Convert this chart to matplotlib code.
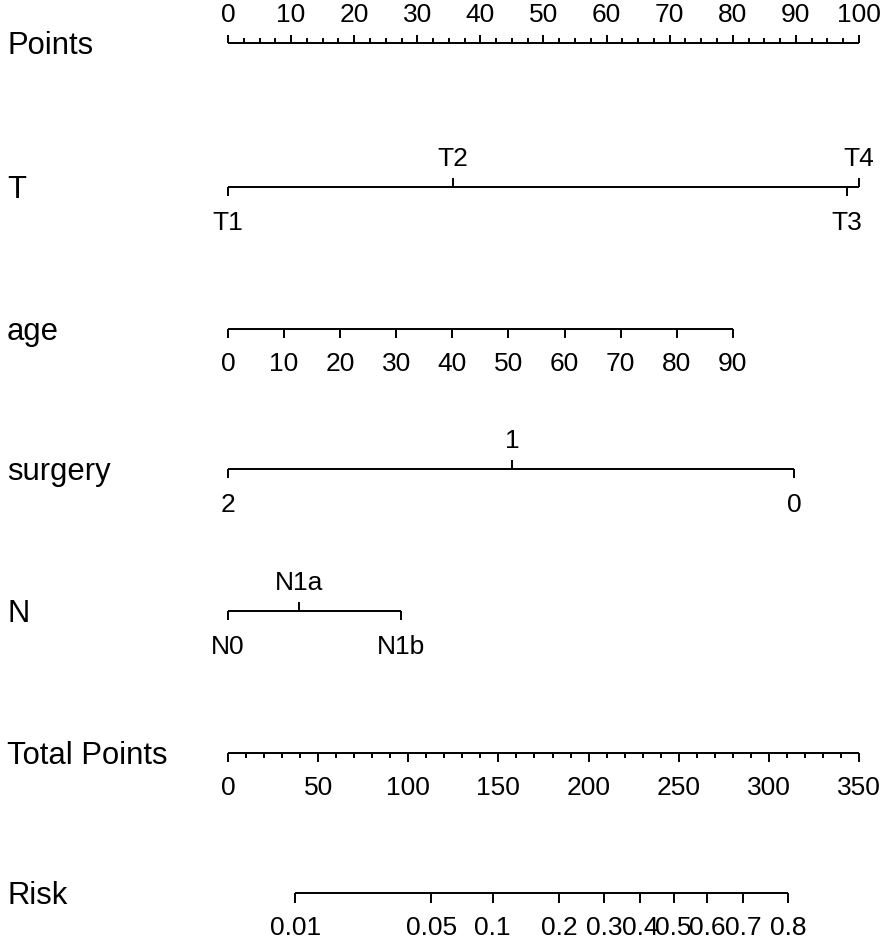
import numpy as np
import matplotlib
matplotlib.use("Agg")
import matplotlib.pyplot as plt

plt.rcParams['font.family'] = ['Liberation Sans', 'DejaVu Sans']

# rows of the nomogram
row_names = ["Points", "T", "age", "surgery", "N", "Total Points", "Risk"]

# predictor levels and their points
t_levels = ["T1", "T2", "T3", "T4"]
t_points = [0, 35.6, 98.1, 100]
t_sides = ["below", "above", "below", "above"]

age_values = [0, 10, 20, 30, 40, 50, 60, 70, 80, 90]
age_points_at_90 = 80.0

surgery_levels = ["2", "1", "0"]
surgery_points = [0, 45.0, 89.7]
surgery_sides = ["below", "above", "below"]

n_levels = ["N0", "N1a", "N1b"]
n_points = [0, 11.3, 27.4]
n_sides = ["below", "above", "below"]

points_ticks = [0, 10, 20, 30, 40, 50, 60, 70, 80, 90, 100]
total_ticks = [0, 50, 100, 150, 200, 250, 300, 350]
total_max = 350
risk_ticks = [0.01, 0.05, 0.1, 0.2, 0.3, 0.4, 0.5, 0.6, 0.7, 0.8]
risk_labels = ["0.01", "0.05", "0.1", "0.2", "0.3", "0.4", "0.5", "0.6", "0.7", "0.8"]
# linear predictor = a + b * total points
lp_a = -5.411
lp_b = 0.02189

# layout (pixel rows)
x0, x1 = 228, 859
row_y = [43, 187, 329, 469, 611, 753, 893]
label_fs = 22.3
tick_fs = 19
lw = 1.4

def px(pts):
    return x0 + np.asarray(pts, dtype=float) * (x1 - x0) / 100.0

fig = plt.figure(figsize=(8.86, 9.43), dpi=100)
ax = fig.add_axes([0, 0, 1, 1])
ax.set_xlim(0, 886)
ax.set_ylim(943, 0)
ax.axis("off")

for name, y in zip(row_names, row_y):
    ax.text(7, y + 3, name, fontsize=label_fs, ha="left", va="center")

def line(xa, xb, y):
    ax.plot([xa, xb], [y, y], color="black", lw=lw, solid_capstyle="butt")

def tick(x, y, length):
    ax.plot([x, x], [y, y + length], color="black", lw=lw, solid_capstyle="butt")

# Points axis (ticks up, labels above)
y = row_y[0]
line(px(0), px(100), y)
for v in np.arange(0, 100.01, 2.5):
    tick(px(v), y, -8 if v % 10 == 0 else -5)
for v in points_ticks:
    ax.text(px(v), y - 28, str(v), fontsize=tick_fs, ha="center", va="center")

# categorical axes
def cat_axis(y, pts, levels, sides):
    xs = px(pts)
    line(xs.min(), xs.max(), y)
    for xv, lab, side in zip(xs, levels, sides):
        if side == "above":
            tick(xv, y, -9)
            ax.text(xv, y - 28, lab, fontsize=tick_fs, ha="center", va="center")
        else:
            tick(xv, y, 9)
            ax.text(xv, y + 36, lab, fontsize=tick_fs, ha="center", va="center")

cat_axis(row_y[1], t_points, t_levels, t_sides)

# age axis
y = row_y[2]
age_x = px(np.array(age_values) * age_points_at_90 / 90.0)
line(age_x[0], age_x[-1], y)
for xv, v in zip(age_x, age_values):
    tick(xv, y, 9)
    ax.text(xv, y + 35, str(v), fontsize=tick_fs, ha="center", va="center")

cat_axis(row_y[3], surgery_points, surgery_levels, surgery_sides)
cat_axis(row_y[4], n_points, n_levels, n_sides)

# Total Points axis
y = row_y[5]
def tpx(t):
    return px(np.asarray(t, dtype=float) * 100.0 / total_max)
line(tpx(0), tpx(total_max), y)
for v in range(0, total_max + 1, 10):
    tick(tpx(v), y, 9 if v % 50 == 0 else 5)
for v in total_ticks:
    ax.text(tpx(v), y + 35, str(v), fontsize=tick_fs, ha="center", va="center")

# Risk axis
y = row_y[6]
risk = np.array(risk_ticks)
risk_total = (np.log(risk / (1 - risk)) - lp_a) / lp_b
rx = tpx(risk_total)
line(rx[0], rx[-1], y)
for xv, lab in zip(rx, risk_labels):
    tick(xv, y, 10)
    ax.text(xv, y + 35, lab, fontsize=tick_fs, ha="center", va="center")

fig.savefig("out.png", dpi=100)
